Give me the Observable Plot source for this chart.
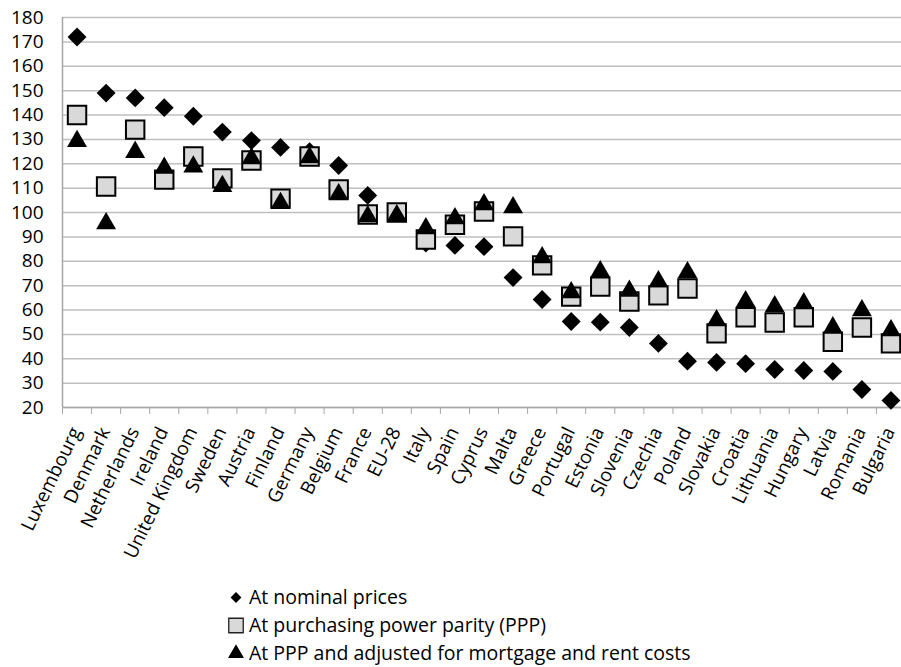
<!DOCTYPE html>
<html>
<head>
<meta charset="utf-8">
<script src="https://cdn.jsdelivr.net/npm/d3@7"></script>
<script src="https://cdn.jsdelivr.net/npm/@observablehq/plot@0.6"></script>
<style>
  body { margin: 0; background: #fff; font-family: "Open Sans", sans-serif; }
  #chart { position: relative; width: 901px; height: 667px; overflow: hidden; }
  #legend { position: absolute; left: 226px; top: 583px; font-size: 19.5px; color: #000; }
  #legend .row { height: 28px; line-height: 28px; display: flex; align-items: center; white-space: nowrap; }
  #legend svg { margin-right: 3px; }
  g[aria-label="y-axis tick label"] { font-size: 19px; }
  g[aria-label="x-axis tick label"] { font-size: 19px; }
</style>
</head>
<body>
<div id="chart"><div id="legend"></div></div>
<script>
const categories = ["Luxembourg","Denmark","Netherlands","Ireland","United Kingdom","Sweden","Austria","Finland","Germany","Belgium","France","EU-28","Italy","Spain","Cyprus","Malta","Greece","Portugal","Estonia","Slovenia","Czechia","Poland","Slovakia","Croatia","Lithuania","Hungary","Latvia","Romania","Bulgaria"];
const nominal  = [172,149,147,143,139.5,133,129.5,126.7,125,119.3,107,100,87.5,86.5,86,73.3,64.3,55.3,55,52.8,46.3,39,38.5,38,35.6,35.2,34.8,27.4,22.9];
const ppp      = [140,110.7,134,113.5,123,114,121.3,105.7,123,109.4,99.2,100,88.9,95,100.4,90.2,78.3,65.5,69.6,63.5,66,68.8,50.4,57,54.9,57,47,52.8,46.3];
const adjusted = [130.5,96.7,126,119.5,120,112,123.4,105,123.8,108.6,99.6,100,94.7,98.8,104.5,103.3,82.8,68.4,77,69,72.9,76.6,56.9,64.7,62.7,63.9,54,61,52.8];
const yTicks = d3.range(20, 181, 10);
const seriesNames = ["At nominal prices","At purchasing power parity (PPP)","At PPP and adjusted for mortgage and rent costs"];

const rows = categories.map((c, i) => ({pos: i + 0.5, nominal: nominal[i], ppp: ppp[i], adjusted: adjusted[i]}));
const boundaries = d3.range(0, categories.length + 1);
const centers = categories.map((c, i) => i + 0.5);

const chart = Plot.plot({
  width: 901,
  height: 570,
  marginLeft: 62,
  marginRight: -4,
  marginTop: 17,
  marginBottom: 163,
  style: {fontFamily: "Open Sans, sans-serif", color: "#000", background: "transparent"},
  x: {type: "linear", domain: [0, categories.length]},
  y: {domain: [20, 180]},
  marks: [
    Plot.gridY(yTicks, {stroke: "#bfbfbf", strokeOpacity: 1, strokeWidth: 1.5}),
    Plot.ruleY([20], {stroke: "#a6a6a6", strokeWidth: 1.5}),
    Plot.ruleX([0], {stroke: "#a6a6a6", strokeWidth: 1.5}),
    Plot.axisY(yTicks, {tickSize: 0, tickPadding: 19, fontSize: 19, label: null, tickFormat: d => d}),
    Plot.axisX(boundaries, {tickSize: 7, tickFormat: () => "", stroke: "#a6a6a6", label: null}),
    Plot.axisX(centers, {tickSize: 0, tickPadding: 8, dx: -1, dy: 13, tickRotate: -64, fontSize: 19, label: null, tickFormat: d => categories[Math.floor(d)]}),
    Plot.dot(rows, {x: "pos", y: "nominal", symbol: "diamond2", r: 8.5, fill: "#000", stroke: "none"}),
    Plot.dot(rows, {x: "pos", y: "ppp", symbol: "square", r: 10.4, fill: "#d9d9d9", stroke: "#000", strokeWidth: 2}),
    Plot.dot(rows, {x: "pos", y: "adjusted", symbol: "triangle", r: 7.4, fill: "#000", stroke: "none", dy: 3})
  ]
});
document.getElementById("chart").prepend(chart);

const legend = d3.select("#legend");
const sym = [
  {type: d3.symbolDiamond2, size: 75, fill: "#000", stroke: "none"},
  {type: d3.symbolSquare, size: 210, fill: "#d9d9d9", stroke: "#222"},
  {type: d3.symbolTriangle, size: 110, fill: "#000", stroke: "none"}
];
seriesNames.forEach((name, i) => {
  const row = legend.append("div").attr("class", "row");
  const s = row.append("svg").attr("width", 20).attr("height", 20);
  s.append("path").attr("transform", "translate(10,10.5)")
    .attr("d", d3.symbol(sym[i].type, sym[i].size)())
    .attr("fill", sym[i].fill).attr("stroke", sym[i].stroke).attr("stroke-width", 1.3);
  row.append("span").text(name);
});
</script>
</body>
</html>
